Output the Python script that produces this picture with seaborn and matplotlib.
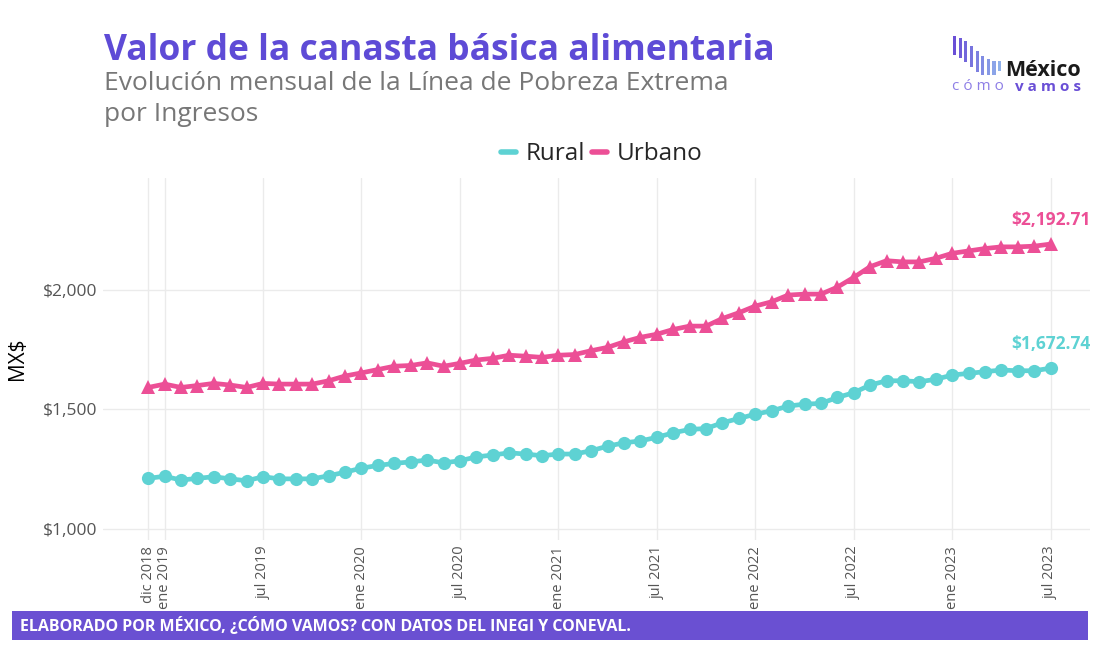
import numpy as np
import pandas as pd
import matplotlib.pyplot as plt
import seaborn as sns
from matplotlib.patches import Rectangle
from matplotlib.lines import Line2D

# valores mensuales dic 2018 - jul 2023 (MX$)
rural = [1211, 1220, 1204, 1211, 1218, 1209, 1201, 1218, 1209, 1209, 1209, 1222,
         1237, 1254, 1265, 1274, 1280, 1288, 1276, 1285, 1301, 1309, 1318, 1313,
         1306, 1313, 1313, 1327, 1346, 1360, 1368, 1383, 1402, 1416, 1420, 1444,
         1462, 1480, 1494, 1514, 1522, 1525, 1550, 1570, 1602, 1620, 1620, 1616,
         1626, 1644, 1651, 1658, 1665, 1662, 1662, 1672.74]
urbano = [1592, 1606, 1592, 1600, 1609, 1602, 1592, 1609, 1606, 1606, 1606, 1620,
          1640, 1653, 1667, 1681, 1684, 1695, 1681, 1693, 1707, 1714, 1727, 1723,
          1718, 1727, 1730, 1746, 1760, 1783, 1802, 1815, 1835, 1849, 1849, 1881,
          1905, 1933, 1951, 1979, 1983, 1983, 2012, 2053, 2098, 2123, 2118, 2118,
          2133, 2154, 2164, 2174, 2181, 2181, 2184, 2192.71]
tick_pos = [0, 1, 7, 13, 19, 25, 31, 37, 43, 49, 55]
tick_labels = ["dic 2018", "ene 2019", "jul 2019", "ene 2020", "jul 2020", "ene 2021",
               "jul 2021", "ene 2022", "jul 2022", "ene 2023", "jul 2023"]
y_ticks = [1000, 1500, 2000]

TEAL = "#5ED2D3"
PINK = "#EC4F96"
PURPLE = "#5E4BD6"
BAR = "#6A50D2"

n = len(rural)
df = pd.DataFrame({
    "mes": list(range(n)) * 2,
    "valor": rural + urbano,
    "zona": ["Rural"] * n + ["Urbano"] * n,
})

sns.set_style("white")
plt.rcParams["font.family"] = ["Open Sans", "DejaVu Sans"]

fig = plt.figure(figsize=(11.1, 6.54), dpi=100)
ax = fig.add_axes([0.093, 0.174, 0.889, 0.554])

sns.lineplot(data=df, x="mes", y="valor", hue="zona", style="zona",
             palette={"Rural": TEAL, "Urbano": PINK},
             markers={"Rural": "o", "Urbano": "^"}, dashes=False,
             linewidth=3.4, markersize=9.5, markeredgewidth=0, legend=False, ax=ax)

ax.set_xlim(-2.74, 57.4)
ax.set_ylim(952, 2470)
ax.set_xticks(tick_pos)
ax.set_xticklabels(tick_labels, rotation=90, fontsize=10.5, color="#555555", va="top")
ax.set_yticks(y_ticks)
ax.set_yticklabels([f"${v:,.0f}" for v in y_ticks], fontsize=12.5, color="#555555")
ax.tick_params(length=0, pad=4)
ax.grid(True, color="#EBEBEB", linewidth=1)
for s in ax.spines.values():
    s.set_visible(False)
ax.set_xlabel("")
ax.set_ylabel("MX$", fontsize=15, color="black")
ax.yaxis.set_label_coords(-0.076, 0.5)

# etiquetas del último valor
ax.annotate(f"${urbano[-1]:,.2f}", (n - 1, urbano[-1]), xytext=(0, 11),
            textcoords="offset points", ha="center", va="bottom",
            color=PINK, fontsize=12.5, fontweight="bold")
ax.annotate(f"${rural[-1]:,.2f}", (n - 1, rural[-1]), xytext=(0, 11),
            textcoords="offset points", ha="center", va="bottom",
            color=TEAL, fontsize=12.5, fontweight="bold")

# leyenda
handles = [Line2D([], [], color=TEAL, linewidth=4),
           Line2D([], [], color=PINK, linewidth=4)]
fig.legend(handles, ["Rural", "Urbano"], loc="center", bbox_to_anchor=(0.542, 0.764),
           ncol=2, frameon=False, fontsize=17.5, handlelength=0.6,
           handletextpad=0.4, columnspacing=0.3)

# títulos
fig.text(0.094, 0.922, "Valor de la canasta básica alimentaria", fontsize=25.5,
         fontweight="bold", color=PURPLE, va="center")
fig.text(0.094, 0.872, "Evolución mensual de la Línea de Pobreza Extrema", fontsize=19,
         color="#777777", va="center")
fig.text(0.094, 0.825, "por Ingresos", fontsize=19, color="#777777", va="center")

# logo
bar_x = np.linspace(953, 998, 9)
bar_top = [36, 38, 41, 46, 51, 56, 59, 61, 61]
bar_bot = [55, 58, 62, 67, 72, 75, 75, 75, 71]
bar_cols = sns.blend_palette(["#6A4FD6", "#8FB0EA"], 9)
for bx, bt, bb, c in zip(bar_x, bar_top, bar_bot, bar_cols):
    fig.add_artist(Rectangle((bx / 1110, 1 - bb / 654), 3.2 / 1110, (bb - bt) / 654,
                             transform=fig.transFigure, color=c, lw=0))
fig.text(1081 / 1110, 1 - 70 / 654, "México", fontsize=15.5, fontweight="bold",
         color="#1a1a1a", ha="right", va="center")
fig.text(952 / 1110, 1 - 87 / 654, "c ó m o", fontsize=11, color="#8E7FE6",
         ha="left", va="center")
fig.text(1081 / 1110, 1 - 87 / 654, "v a m o s", fontsize=11, fontweight="bold",
         color="#6A4FD6", ha="right", va="center")

# pie
fig.add_artist(Rectangle((12 / 1110, 14 / 654), 1076 / 1110, 29 / 654,
                         transform=fig.transFigure, color=BAR, lw=0))
fig.text(20 / 1110, 28.5 / 654, "ELABORADO POR MÉXICO, ¿CÓMO VAMOS? CON DATOS DEL INEGI Y CONEVAL.",
         fontsize=11.5, fontweight="bold", color="white", va="center")

fig.savefig("out.png", dpi=100, facecolor="white")
